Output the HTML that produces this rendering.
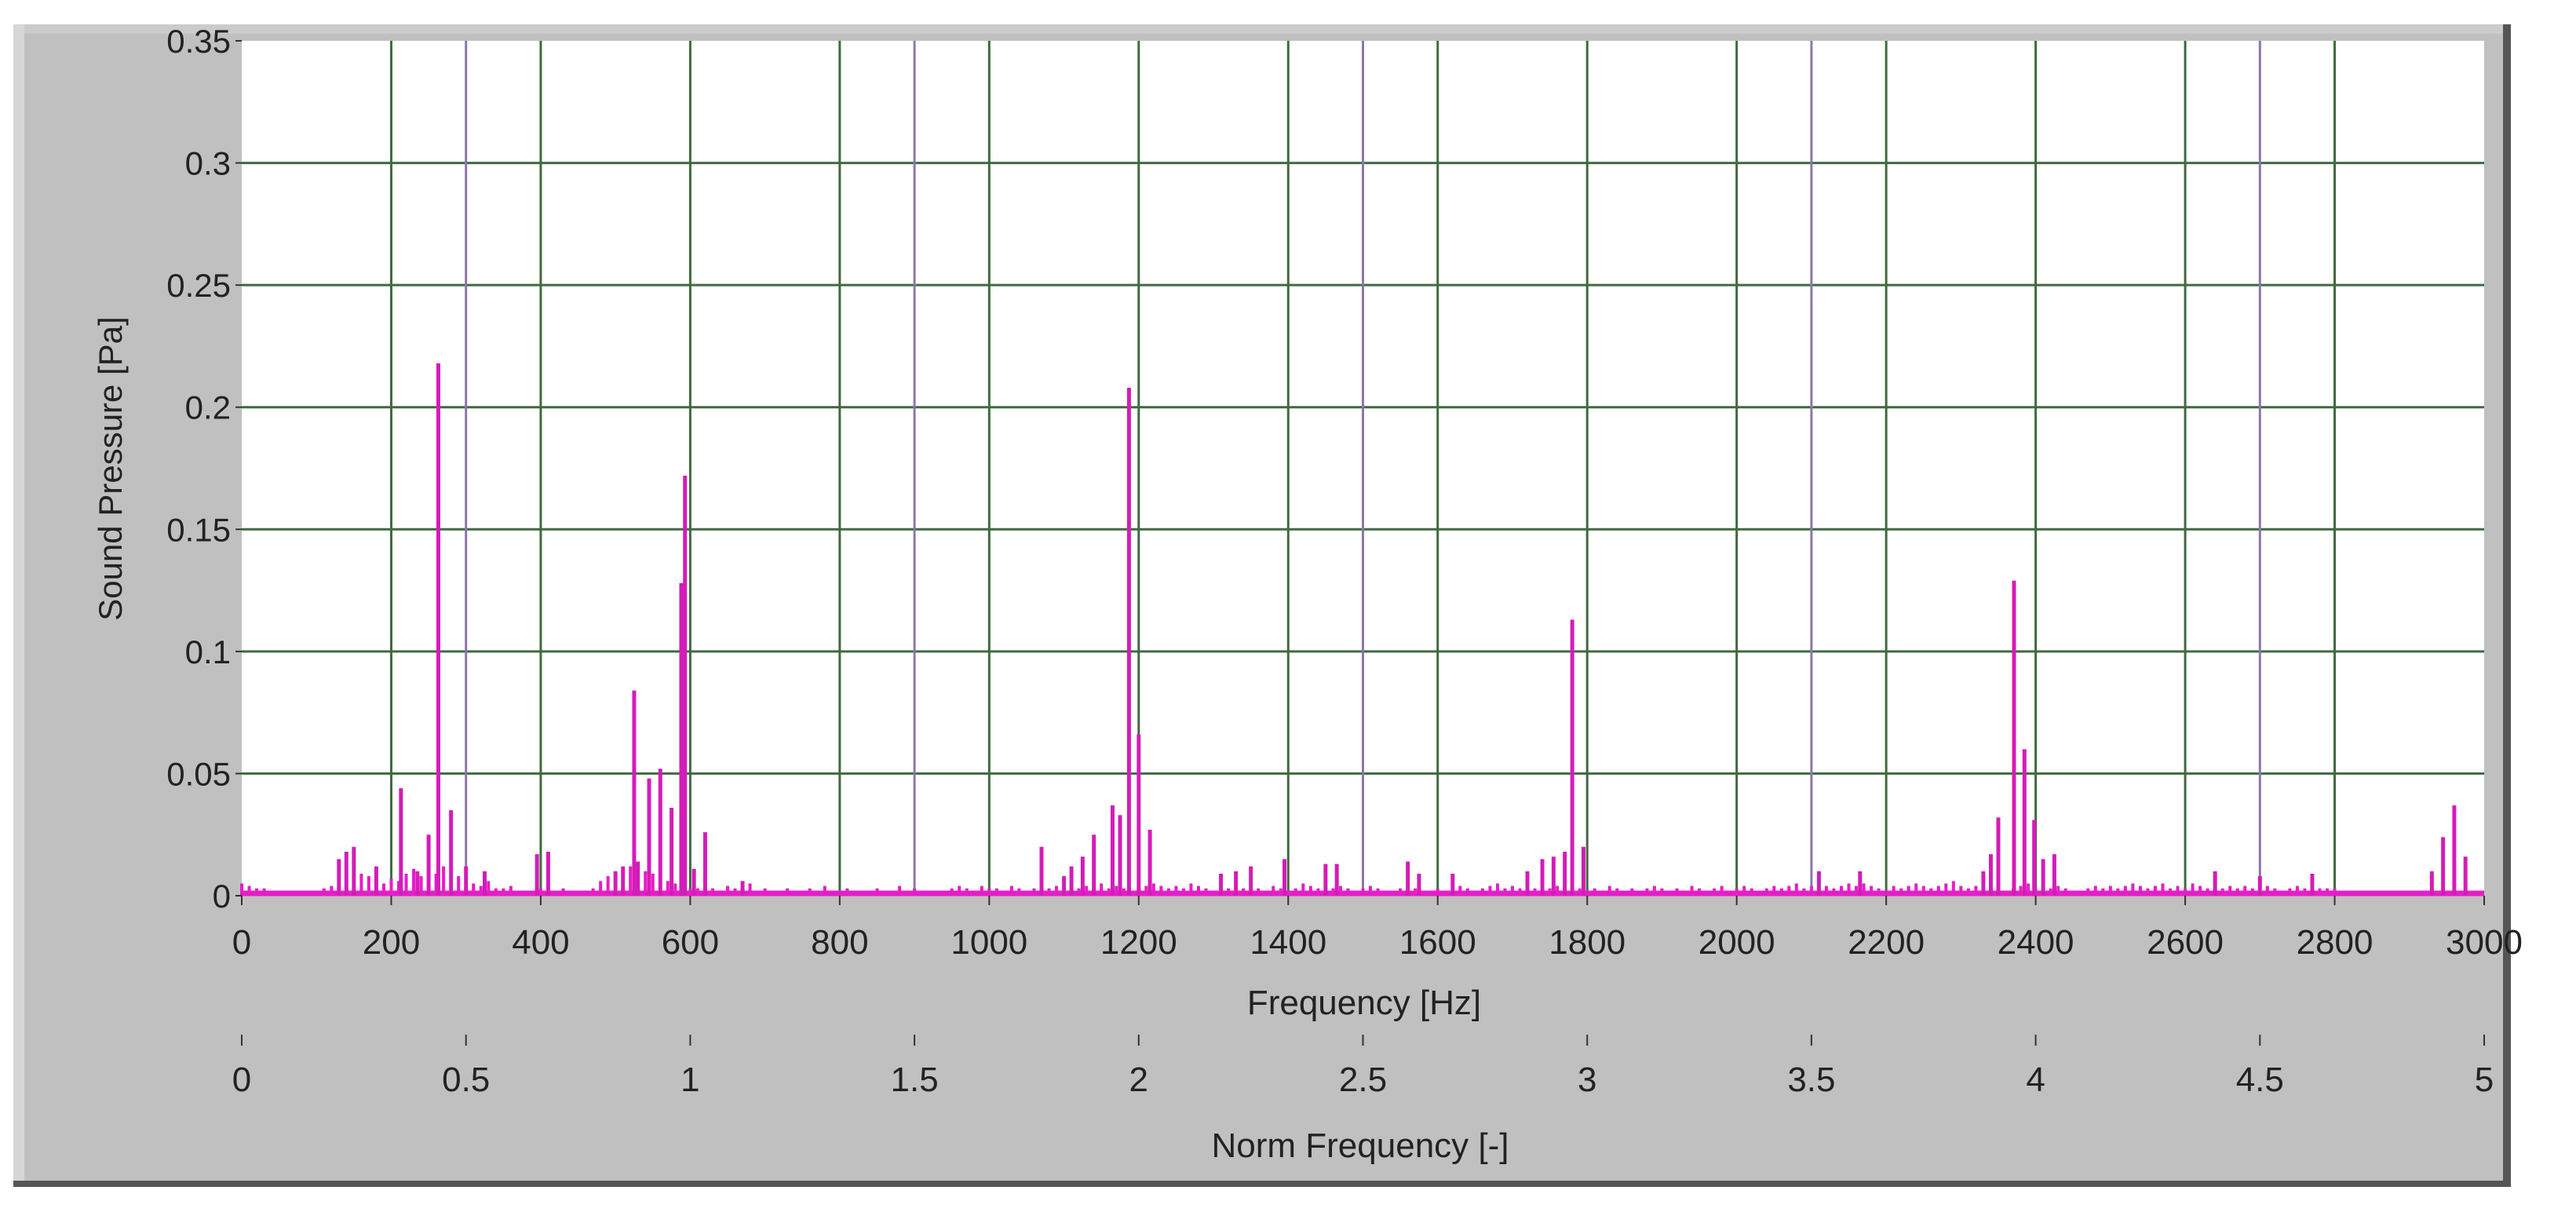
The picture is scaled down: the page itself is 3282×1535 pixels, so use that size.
<!DOCTYPE html>
<html><head><meta charset="utf-8">
<style>
html,body{margin:0;padding:0;background:#fff;}
body{width:3282px;height:1530px;overflow:hidden;font-family:"Liberation Sans",sans-serif;}
svg text{font-family:"Liberation Sans",sans-serif;fill:#222;}
</style></head>
<body>
<svg id="chart" width="3282" height="1530" viewBox="0 0 3282 1530" xmlns="http://www.w3.org/2000/svg">
  <rect x="17" y="31" width="3182" height="1481" fill="#555"/>
  <rect x="17" y="31" width="3172" height="1473" fill="#c0c0c0"/>
  <rect x="17" y="31" width="14" height="1473" fill="#d6d6d6"/>
  <rect x="31" y="31" width="3158" height="12" fill="#cbcbcb"/>
  <rect x="308" y="52" width="2857" height="1089" fill="#ffffff"/>
  <g id="grid"></g>
  <g id="marks"></g>
  <g id="axes"></g>
  <text transform="translate(155,597) rotate(-90)" text-anchor="middle" font-size="42">Sound Pressure [Pa]</text>
  <text x="1738" y="1292" text-anchor="middle" font-size="44">Frequency  [Hz]</text>
  <text x="1733" y="1474" text-anchor="middle" font-size="44">Norm Frequency [-]</text>
</svg>
<script>
// ---- data ----
const yTicks = [0, 0.05, 0.1, 0.15, 0.2, 0.25, 0.3, 0.35];
const yTickLabels = ["0","0.05","0.1","0.15","0.2","0.25","0.3","0.35"];
const xTicks = [0,200,400,600,800,1000,1200,1400,1600,1800,2000,2200,2400,2600,2800,3000];
const normTicks = [0,0.5,1,1.5,2,2.5,3,3.5,4,4.5,5];
const normTickLabels = ["0","0.5","1","1.5","2","2.5","3","3.5","4","4.5","5"];
// noise floor, every 10 Hz from 0 Hz, in mPa
const floorVals = [5,4,3,3,2,2,2,2,2,2,2,3,4,
 10,12,15,9,8,6,5,7,6,9,11,8,7,9,12,10,8,6,
 5,4,6,3,3,4,2,2,2,
 3,4,2,3,2,2,2,3,
 6,8,10,9,12,11,10,9,8,6,5,4,3,
 3,2,3,2,4,3,2,5,2,3,2,2,3,2,2,3,2,4,2,2,3,2,2,2,3,2,2,4,2,3,2,2,2,2,3,4,3,2,4,3,
 3,2,4,3,2,3,5,3,4,3,2,3,4,3,5,3,4,3,2,3,4,5,4,3,4,3,5,4,3,2,
 4,3,2,3,5,3,2,4,3,2,3,5,4,3,2,3,4,3,2,3,4,3,2,2,3,2,3,2,2,3,
 2,3,4,3,2,3,4,5,3,4,3,4,3,2,3,4,3,4,3,2,3,2,4,3,2,3,2,3,4,3,
 2,3,2,4,3,2,3,4,2,3,4,3,2,3,4,3,4,5,3,4,5,4,3,4,5,4,5,4,3,2,
 4,3,4,5,4,3,4,5,6,4,3,4,5,4,3,2,3,4,5,3,2,3,4,3,2,2,3,4,3,4,
 3,4,5,4,3,4,5,3,4,3,5,4,3,2,3,4,3,4,3,4,4,3,2,3,4,3,4,3,3,3];
// discrete peaks
const peakFreqs = [130,140,150,180,213,235,250,263,280,300,325,395,410,500,510,530,525,545,560,575,588,593,605,620,670,
  1070,1100,1110,1125,1140,1165,1175,1187,1200,1215,1310,1330,1350,1395,1450,1465,1560,1575,1620,
  1720,1740,1755,1770,1780,1795,2110,2165,2330,2340,2350,2371,2385,2398,2410,2425,2640,2700,2770,2930,2945,2960,2975];
const peakVals = [0.015,0.018,0.020,0.012,0.044,0.010,0.025,0.218,0.035,0.012,0.010,0.017,0.018,0.010,0.012,0.014,0.084,0.048,0.052,0.036,0.128,0.172,0.011,0.026,0.006,
  0.020,0.008,0.012,0.016,0.025,0.037,0.033,0.208,0.066,0.027,0.009,0.010,0.012,0.015,0.013,0.013,0.014,0.009,0.009,
  0.010,0.015,0.016,0.018,0.113,0.020,0.010,0.010,0.010,0.017,0.032,0.129,0.060,0.031,0.015,0.017,0.010,0.008,0.009,0.010,0.024,0.037,0.016];

// ---- axis functions ----
const PL=308, PR=3165, PT=52, PB=1141;
const xs = f => PL + (f/3000)*(PR-PL);
const ys = v => PB - (v/0.35)*(PB-PT);
const xn = n => PL + (n/5)*(PR-PL);
const NS="http://www.w3.org/2000/svg";
function mk(tag, attrs, parent){const e=document.createElementNS(NS,tag);for(const k in attrs)e.setAttribute(k,attrs[k]);parent.appendChild(e);return e;}
const grid=document.getElementById('grid'), marks=document.getElementById('marks'), axes=document.getElementById('axes');

yTicks.forEach((v,i)=>{
  if(i>0 && i<yTicks.length-1){
    const l=mk('line',{x1:PL,x2:PR,y1:ys(v),y2:ys(v),stroke:'#3f6a3f','stroke-width':3},grid);
    
    
  }
  const t=mk('line',{x1:PL-8,x2:PL,y1:ys(v),y2:ys(v),stroke:'#333','stroke-width':2},axes);
  
  
  const tx=mk('text',{x:PL-14,y:ys(v)+15,'text-anchor':'end','font-size':42},axes);
  tx.textContent=yTickLabels[i];
  
  
});
xTicks.forEach(f=>{
  if(f>0 && f<3000){
    const l=mk('line',{x1:xs(f),x2:xs(f),y1:PT,y2:PB,stroke:'#3f6a3f','stroke-width':3},grid);
    
    
  }
  const t=mk('line',{x1:xs(f),x2:xs(f),y1:PB,y2:PB+12,stroke:'#333','stroke-width':2},axes);
  
  
  const tx=mk('text',{x:xs(f),y:1215,'text-anchor':'middle','font-size':44},axes);
  tx.textContent=String(f);
  
  
});
normTicks.forEach((n,i)=>{
  if(n>0 && n<5 && (n*2)%2===1){
    const l=mk('line',{x1:xn(n),x2:xn(n),y1:PT,y2:PB,stroke:'#8a78a8','stroke-width':3},grid);
    
    
  }
  const t=mk('line',{x1:xn(n),x2:xn(n),y1:1318,y2:1332,stroke:'#333','stroke-width':2},axes);
  
  
  const tx=mk('text',{x:xn(n),y:1390,'text-anchor':'middle','font-size':44},axes);
  tx.textContent=normTickLabels[i];
  
  
});

// baseline
const base=mk('line',{x1:PL,x2:PR,y1:ys(0)-3,y2:ys(0)-3,stroke:'#e020c8','stroke-width':7},marks);


floorVals.forEach((v,i)=>{
  const f=i*10; if(f>3000) return;
  const l=mk('line',{x1:xs(f),x2:xs(f),y1:ys(0),y2:ys(v/1000),stroke:'#e81cc8','stroke-width':4},marks);
  
  
});
peakFreqs.forEach((f,i)=>{
  const l=mk('line',{x1:xs(f),x2:xs(f),y1:ys(0),y2:ys(peakVals[i]),stroke:'#d41cb8','stroke-width':5},marks);
  
  
});
</script>
</body></html>
